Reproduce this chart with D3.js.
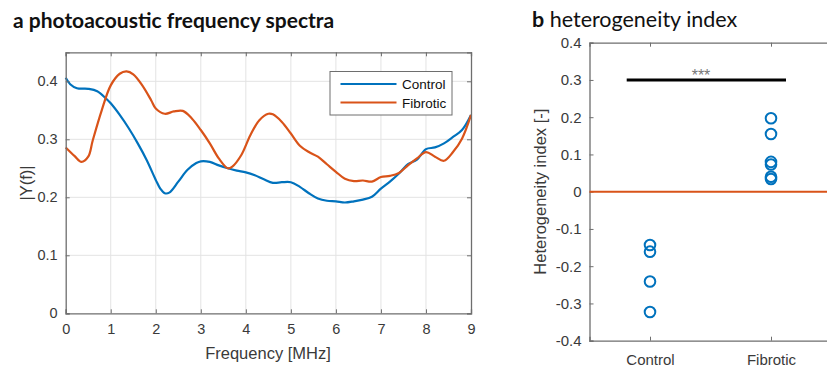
<html>
<head>
    <title>Photoacoustic</title>
    <style>
        body { margin: 0; background: #fff; }
        svg text { font-family: "Liberation Sans", Arial, sans-serif; }
        svg text.title { font-family: Lato, "Open Sans", sans-serif; }
    </style>
</head>
<body>
<div id="chart"></div>
</body>
<script src="https://d3js.org/d3.v7.min.js"></script>
<script>

  const width = 827;
  const height = 368;

  // panel a: spectra
  const freq = [0, 0.1, 0.25, 0.5, 0.7, 0.9, 1.0, 1.2, 1.4, 1.6, 1.8, 2.0, 2.1, 2.2, 2.3, 2.5, 2.7, 2.9, 3.0, 3.2, 3.4, 3.6, 3.8, 4.0, 4.2, 4.4, 4.6, 4.8, 5.0, 5.2, 5.4, 5.6, 5.8, 6.0, 6.2, 6.4, 6.6, 6.8, 7.0, 7.2, 7.4, 7.6, 7.8, 8.0, 8.2, 8.4, 8.6, 8.8, 9.0]
  const control = [0.406, 0.395, 0.388, 0.387, 0.383, 0.370, 0.362, 0.342, 0.319, 0.293, 0.264, 0.230, 0.215, 0.207, 0.208, 0.227, 0.247, 0.259, 0.262, 0.261, 0.255, 0.250, 0.246, 0.243, 0.238, 0.231, 0.225, 0.226, 0.226, 0.218, 0.207, 0.198, 0.194, 0.193, 0.191, 0.193, 0.196, 0.201, 0.215, 0.227, 0.241, 0.257, 0.265, 0.283, 0.286, 0.293, 0.304, 0.316, 0.342]
  const freqF = [0, 0.2, 0.35, 0.5, 0.6, 0.8, 1.0, 1.2, 1.35, 1.5, 1.7, 1.9, 2.0, 2.2, 2.4, 2.6, 2.8, 3.0, 3.2, 3.4, 3.6, 3.7, 3.9, 4.1, 4.3, 4.5, 4.6, 4.8, 5.0, 5.2, 5.4, 5.6, 5.8, 6.0, 6.2, 6.4, 6.6, 6.8, 7.0, 7.2, 7.4, 7.6, 7.8, 8.0, 8.2, 8.4, 8.6, 8.8, 9.0]
  const fibrotic = [0.286, 0.271, 0.261, 0.270, 0.298, 0.350, 0.393, 0.413, 0.417, 0.412, 0.393, 0.367, 0.353, 0.344, 0.348, 0.349, 0.336, 0.316, 0.293, 0.267, 0.250, 0.253, 0.273, 0.307, 0.333, 0.344, 0.343, 0.330, 0.310, 0.289, 0.278, 0.270, 0.257, 0.244, 0.232, 0.228, 0.229, 0.227, 0.235, 0.237, 0.242, 0.255, 0.267, 0.278, 0.270, 0.263, 0.278, 0.301, 0.342]
  const xTicksA = [0, 1, 2, 3, 4, 5, 6, 7, 8, 9]
  const yTicksA = [0, 0.1, 0.2, 0.3, 0.4]

  // panel b: heterogeneity index
  const groups = ['Control', 'Fibrotic']
  const controlIdx = [-0.143, -0.161, -0.241, -0.323]
  const fibroticIdx = [0.197, 0.155, 0.080, 0.073, 0.040, 0.034]
  const yTicksB = [-0.4, -0.3, -0.2, -0.1, 0, 0.1, 0.2, 0.3, 0.4]
  const sigLevel = 0.3

  const blue = '#0072BD'
  const red = '#D95319'
  const axisColor = '#6e6e6e'
  const textColor = '#3a3a3a'

  const svg = d3.select('#chart')
    .append('svg')
    .attr('width', width)
    .attr('height', height)

  // ---- panel a ----
  const xA = d3.scaleLinear().domain([0, 9]).range([65.7, 471])
  const yA = d3.scaleLinear().domain([0, 0.45]).range([313.3, 52.3])
  const ga = svg.append('g')

  ga.append('text').attr('class', 'title').attr('x', 13).attr('y', 28)
    .attr('font-size', 21).attr('font-weight', 'bold').attr('fill', '#111')
    .text('a photoacoustic frequency spectra')

  // grid
  ga.append('g').selectAll('line').data(xTicksA.slice(1, -1)).join('line')
    .attr('x1', d => xA(d)).attr('x2', d => xA(d))
    .attr('y1', yA(0)).attr('y2', yA(0.45))
    .attr('stroke', '#e3e3e3')
  ga.append('g').selectAll('line').data(yTicksA.slice(1)).join('line')
    .attr('x1', xA(0)).attr('x2', xA(9))
    .attr('y1', d => yA(d)).attr('y2', d => yA(d))
    .attr('stroke', '#e3e3e3')

  const lineA = (xs, ys) => d3.line().curve(d3.curveCatmullRom)
    .x((d, i) => xA(xs[i])).y(d => yA(d))(ys)

  ga.append('path').attr('d', lineA(freq, control))
    .attr('fill', 'none').attr('stroke', blue).attr('stroke-width', 2.2)
  ga.append('path').attr('d', lineA(freqF, fibrotic))
    .attr('fill', 'none').attr('stroke', red).attr('stroke-width', 2.2)

  // axes (MATLAB style, inward ticks, box)
  const axA = ga.append('g')
  axA.append('g').attr('transform', `translate(0,${yA(0)})`)
    .call(d3.axisBottom(xA).tickValues(xTicksA).tickSize(-4).tickPadding(10).tickFormat(d3.format('d')))
  axA.append('g').attr('transform', `translate(0,${yA(0.45)})`)
    .call(d3.axisTop(xA).tickValues(xTicksA).tickSize(-4).tickFormat(''))
  axA.append('g').attr('transform', `translate(${xA(0)},0)`)
    .call(d3.axisLeft(yA).tickValues(yTicksA).tickSize(-4).tickPadding(8).tickFormat(d => d === 0 ? '0' : d3.format('.1f')(d)))
  axA.append('g').attr('transform', `translate(${xA(9)},0)`)
    .call(d3.axisRight(yA).tickValues(yTicksA).tickSize(-4).tickFormat(''))
  axA.selectAll('.domain').attr('stroke', axisColor).attr('stroke-width', 1.3)
  axA.selectAll('.tick line').attr('stroke', axisColor)
  axA.selectAll('.tick text').attr('font-size', 14.5).attr('fill', textColor)
    .attr('font-family', '"Liberation Sans", Arial, sans-serif')

  ga.append('text').attr('x', 268).attr('y', 359).attr('text-anchor', 'middle')
    .attr('font-size', 16.5).attr('fill', textColor).text('Frequency [MHz]')
  ga.append('text').attr('transform', 'translate(32,183) rotate(-90)').attr('text-anchor', 'middle')
    .attr('font-size', 16.5).attr('fill', textColor).text('|Y(f)|')

  // legend
  const lg = ga.append('g')
  lg.append('rect').attr('x', 330).attr('y', 71.5).attr('width', 122).attr('height', 43.5)
    .attr('fill', '#fff').attr('stroke', axisColor)
  const legendItems = [{name: 'Control', color: blue}, {name: 'Fibrotic', color: red}]
  legendItems.forEach((d, i) => {
    const y = 84 + i * 18.5
    lg.append('line').attr('x1', 340.5).attr('x2', 396.5).attr('y1', y).attr('y2', y)
      .attr('stroke', d.color).attr('stroke-width', 2)
    lg.append('text').attr('x', 402).attr('y', y + 5).attr('font-size', 13.5).attr('fill', '#111').text(d.name)
  })

  // ---- panel b ----
  const xB = d3.scaleLinear().domain([0.5, 2.5]).range([589.5, 831.5])
  const yB = d3.scaleLinear().domain([-0.4, 0.4]).range([340.7, 42.7])
  const gb = svg.append('g')

  const tb = gb.append('text').attr('class', 'title').attr('x', 532).attr('y', 27)
    .attr('font-size', 21.5).attr('fill', '#111')
  tb.append('tspan').attr('font-weight', 'bold').text('b')
  tb.append('tspan').text(' heterogeneity index')

  const axB = gb.append('g')
  axB.append('g').attr('transform', `translate(${xB(0.5)},0)`)
    .call(d3.axisLeft(yB).tickValues(yTicksB).tickSize(-4).tickPadding(8).tickFormat(d => d === 0 ? '0' : d3.format('.1f')(d).replace('−', '-')))
  axB.append('g').attr('transform', `translate(0,${yB(-0.4)})`)
    .call(d3.axisBottom(xB).tickValues([1, 2]).tickSize(-4).tickPadding(14).tickFormat((d, i) => groups[i]))
  axB.append('g').attr('transform', `translate(0,${yB(0.4)})`)
    .call(d3.axisTop(xB).tickValues([1, 2]).tickSize(-4).tickFormat(''))
  axB.selectAll('.domain').attr('stroke', axisColor).attr('stroke-width', 1.3)
  axB.selectAll('.tick line').attr('stroke', axisColor)
  axB.selectAll('.tick text').attr('font-size', 15).attr('fill', textColor)
    .attr('font-family', '"Liberation Sans", Arial, sans-serif')

  gb.append('text').attr('transform', `translate(546,${yB(0)}) rotate(-90)`).attr('text-anchor', 'middle')
    .attr('font-size', 16.5).attr('fill', textColor).text('Heterogeneity index [-]')

  // zero line
  gb.append('line').attr('x1', xB(0.5)).attr('x2', xB(2.5)).attr('y1', yB(0)).attr('y2', yB(0))
    .attr('stroke', red).attr('stroke-width', 2)

  // significance bar
  gb.append('line').attr('x1', 626.7).attr('x2', 786).attr('y1', yB(sigLevel)).attr('y2', yB(sigLevel))
    .attr('stroke', '#000').attr('stroke-width', 3)
  gb.append('text').attr('x', 701).attr('y', yB(sigLevel) + 1).attr('text-anchor', 'middle')
    .attr('font-size', 16).attr('fill', '#777').text('***')

  const pts = controlIdx.map(v => ({g: 1, v})).concat(fibroticIdx.map(v => ({g: 2, v})))
  gb.append('g').selectAll('circle').data(pts).join('circle')
    .attr('cx', d => xB(d.g)).attr('cy', d => yB(d.v)).attr('r', 5.3)
    .attr('fill', 'none').attr('stroke', blue).attr('stroke-width', 2)

</script>
</html>
